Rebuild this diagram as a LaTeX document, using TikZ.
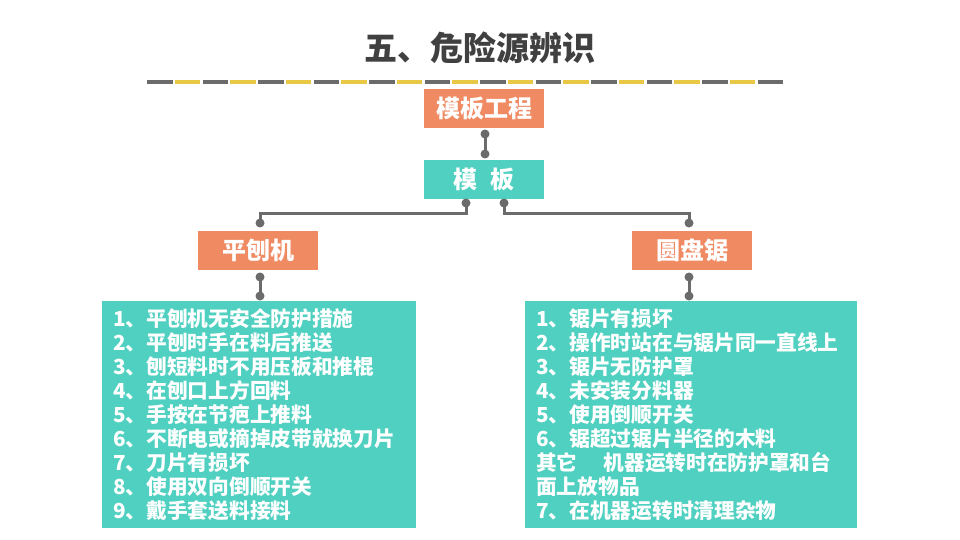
\documentclass[tikz,border=0pt]{standalone}
\usepackage{fontspec}
\newfontfamily\cjk{Noto Sans CJK SC}
\definecolor{boxorange}{HTML}{F08A62}
\definecolor{boxteal}{HTML}{50D0C0}
\definecolor{linegray}{HTML}{6B6B6B}
\definecolor{dashyellow}{HTML}{E8C845}
\definecolor{titlegray}{HTML}{404040}
\begin{document}
\begin{tikzpicture}[x=1pt, y=-1pt,
        head/.style={fill=boxorange, text=white, inner sep=0pt, minimum width=120pt, minimum height=39pt,
            font=\cjk\bfseries\fontsize{24}{28}\selectfont},
        mid/.style={head, fill=boxteal},
        listbox/.style={fill=boxteal, text=white, anchor=north west, inner xsep=11pt, inner ysep=0pt,
            align=left, font=\cjk\bfseries\fontsize{20.7}{24}\selectfont},
        dot/.style={circle, fill=linegray, inner sep=0pt, minimum size=9pt},
        link/.style={draw=linegray, line width=3pt}]
    \useasboundingbox (0, 0) rectangle (960, 540);

    \node[text=titlegray, font=\cjk\bfseries\fontsize{33}{36}\selectfont] (title) at (480, 48) {五、危险源辨识};

    % dashed rule under the title
    \foreach \i in {0, ..., 22} {
        \pgfmathsetmacro{\xa}{147 + 27.75*\i}
        \ifodd\i
            \draw[dashyellow, line width=3.5pt] (\xa, 82) -- ++(25.5, 0);
        \else
            \draw[linegray, line width=3.5pt] (\xa, 82) -- ++(25.5, 0);
        \fi
    }

    \node[head] (proj) at (484, 108.5) {模板工程};
    \node[mid] (form) at (484, 179.5) {模\hspace{14pt}板};
    \node[head] (plane) at (258, 250.5) {平刨机};
    \node[head] (saw) at (692, 250.5) {圆盘锯};

    \node[listbox, text width=292pt, minimum width=314pt, minimum height=227pt] (planelist) at (102, 301) {%
        1、平刨机无安全防护措施\\
        2、平刨时手在料后推送\\
        3、刨短料时不用压板和推棍\\
        4、在刨口上方回料\\
        5、手按在节疤上推料\\
        6、不断电或摘掉皮带就换刀片\\
        7、刀片有损坏\\
        8、使用双向倒顺开关\\
        9、戴手套送料接料};
    \node[listbox, text width=310pt, minimum width=332pt, minimum height=227pt] (sawlist) at (525, 301) {%
        1、锯片有损坏\\
        2、操作时站在与锯片同一直线上\\
        3、锯片无防护罩\\
        4、未安装分料器\\
        5、使用倒顺开关\\
        6、锯超过锯片半径的木料\\
        其它\hspace*{26pt}机器运转时在防护罩和台\\
        面上放物品\\
        7、在机器运转时清理杂物};

    \node[dot] (d1) at (485, 134) {};
    \node[dot] (d2) at (485, 154) {};
    \node[dot] (d3) at (466, 203) {};
    \node[dot] (d4) at (504, 203) {};
    \node[dot] (d5) at (260, 223) {};
    \node[dot] (d6) at (689, 223) {};
    \node[dot] (d7) at (260, 277) {};
    \node[dot] (d8) at (260, 296) {};
    \node[dot] (d9) at (689, 277) {};
    \node[dot] (d10) at (689, 296) {};
    \coordinate (jl) at (260, 213);
    \coordinate (jr) at (689, 213);

    \draw[link] (d1.center) -- (d2.center);
    \draw[link] (d3.center) |- (jl) -- (d5.center);
    \draw[link] (d4.center) |- (jr) -- (d6.center);
    \draw[link] (d7.center) -- (d8.center);
    \draw[link] (d9.center) -- (d10.center);
\end{tikzpicture}
\end{document}
